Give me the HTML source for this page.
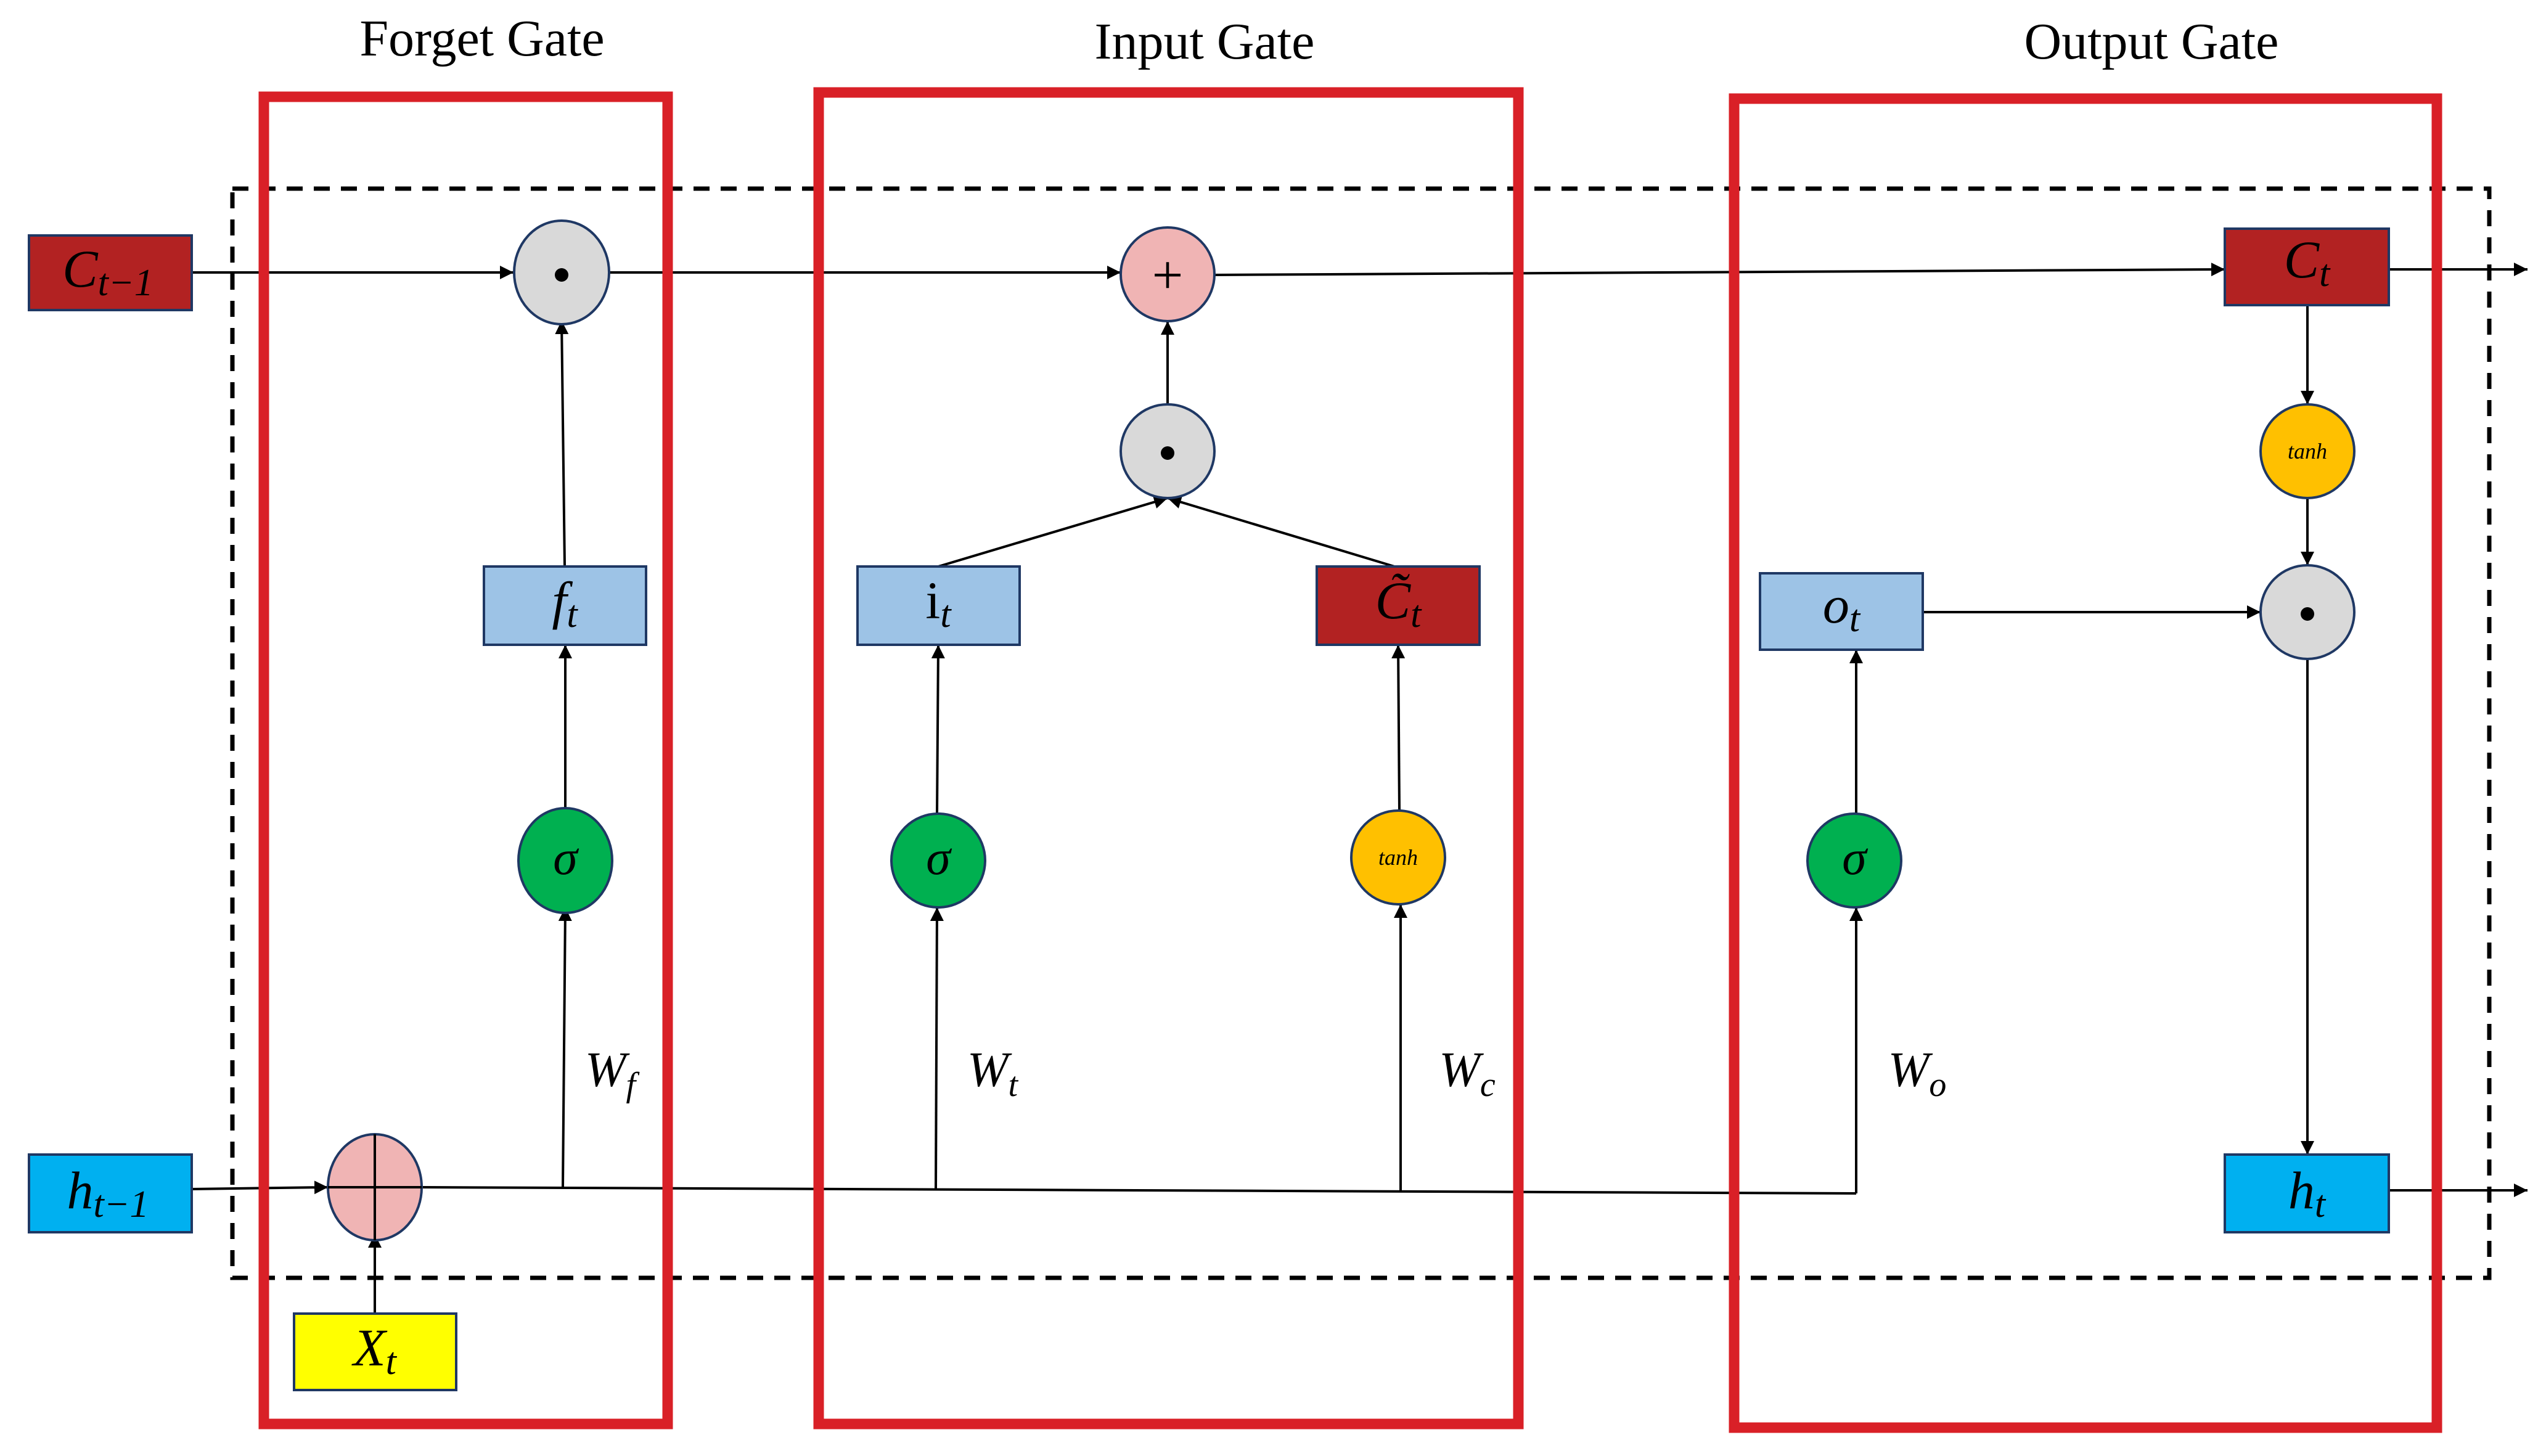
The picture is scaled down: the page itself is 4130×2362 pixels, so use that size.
<!DOCTYPE html>
<html><head><meta charset="utf-8"><style>html,body{margin:0;padding:0;background:#fff}svg{display:block}</style></head>
<body>
<svg width="4130" height="2362" viewBox="0 0 4130 2362" xmlns="http://www.w3.org/2000/svg" font-family="Liberation Serif, serif">
<defs>
<marker id="b" viewBox="0 0 10 10" refX="10" refY="5" markerWidth="22" markerHeight="22" orient="auto" markerUnits="userSpaceOnUse">
<path d="M0,0 L10,5 L0,10 z" fill="#000"/></marker>
</defs>
<rect width="4130" height="2362" fill="#fff"/>
<g font-size="84" text-anchor="middle" fill="#000">
<text x="782" y="90">Forget Gate</text>
<text x="1954" y="95">Input Gate</text>
<text x="3490" y="95">Output Gate</text>
</g>
<rect x="377" y="306" width="3661" height="1767" fill="none" stroke="#000" stroke-width="7" stroke-dasharray="26,18"/>
<g stroke="#000" stroke-width="4" fill="none">
<line x1="311" y1="442" x2="833" y2="442" marker-end="url(#b)"/>
<line x1="989" y1="442" x2="1818" y2="442" marker-end="url(#b)"/>
<line x1="1970" y1="446" x2="3609" y2="437" marker-end="url(#b)"/>
<line x1="3875" y1="437" x2="4100" y2="437" marker-end="url(#b)"/>
<line x1="916" y1="919" x2="911" y2="520" marker-end="url(#b)"/>
<line x1="917" y1="1320" x2="917" y2="1046" marker-end="url(#b)"/>
<line x1="913" y1="1926" x2="917" y2="1472" marker-end="url(#b)"/>
<line x1="311" y1="1929" x2="532" y2="1926" marker-end="url(#b)"/>
<line x1="608" y1="2131" x2="608" y2="2002" marker-end="url(#b)"/>
<line x1="684" y1="1926" x2="3011" y2="1936"/>
<line x1="3011" y1="1936" x2="3011" y2="1472" marker-end="url(#b)"/>
<line x1="3011" y1="1320" x2="3011" y2="1054" marker-end="url(#b)"/>
<line x1="1518" y1="1929" x2="1520" y2="1472" marker-end="url(#b)"/>
<line x1="1520" y1="1320" x2="1522" y2="1046" marker-end="url(#b)"/>
<line x1="2272" y1="1932" x2="2272" y2="1467" marker-end="url(#b)"/>
<line x1="2270" y1="1315" x2="2268" y2="1046" marker-end="url(#b)"/>
<line x1="1522" y1="919" x2="1894" y2="808" marker-end="url(#b)"/>
<line x1="2262" y1="919" x2="1894" y2="808" marker-end="url(#b)"/>
<line x1="1894" y1="656" x2="1894" y2="521" marker-end="url(#b)"/>
<line x1="3743" y1="495" x2="3743" y2="656" marker-end="url(#b)"/>
<line x1="3743" y1="808" x2="3743" y2="917" marker-end="url(#b)"/>
<line x1="3119" y1="993" x2="3667" y2="993" marker-end="url(#b)"/>
<line x1="3743" y1="1069" x2="3743" y2="1873" marker-end="url(#b)"/>
<line x1="3875" y1="1931" x2="4100" y2="1931" marker-end="url(#b)"/>
</g>
<g stroke="#1f3864" stroke-width="4">
<rect x="47" y="382" width="264" height="121" fill="#b22222"/>
<rect x="47" y="1873" width="264" height="126" fill="#00b0f0"/>
<rect x="477" y="2131" width="263" height="124" fill="#ffff00"/>
<rect x="785" y="919" width="263" height="127" fill="#9dc3e6"/>
<rect x="1391" y="919" width="263" height="127" fill="#9dc3e6"/>
<rect x="2136" y="919" width="264" height="127" fill="#b22222"/>
<rect x="2855" y="930" width="264" height="124" fill="#9dc3e6"/>
<rect x="3609" y="371" width="266" height="124" fill="#b22222"/>
<rect x="3609" y="1873" width="266" height="126" fill="#00b0f0"/>
</g>
<g stroke="#1f3864" stroke-width="4">
<ellipse cx="911" cy="442" rx="77" ry="84" fill="#d9d9d9"/>
<ellipse cx="1894" cy="445" rx="76" ry="76" fill="#f0b4b4"/>
<ellipse cx="1894" cy="732" rx="76" ry="76" fill="#d9d9d9"/>
<ellipse cx="3743" cy="993" rx="76" ry="76" fill="#d9d9d9"/>
<ellipse cx="3743" cy="732" rx="76" ry="76" fill="#ffc000"/>
<ellipse cx="2268" cy="1391" rx="76" ry="76" fill="#ffc000"/>
<ellipse cx="917" cy="1396" rx="76" ry="85" fill="#00b050"/>
<ellipse cx="1522" cy="1396" rx="76" ry="76" fill="#00b050"/>
<ellipse cx="3008" cy="1396" rx="76" ry="76" fill="#00b050"/>
<ellipse cx="608" cy="1926" rx="76" ry="86" fill="#f0b4b4"/>
</g>
<g stroke="#000" stroke-width="4"><line x1="532" y1="1926" x2="684" y2="1926"/><line x1="608" y1="1840" x2="608" y2="2012"/></g>
<g fill="#000"><circle cx="911" cy="446" r="11"/><circle cx="1894" cy="735" r="11"/><circle cx="3743" cy="996" r="11"/></g>
<g font-style="italic" fill="#000" text-anchor="middle">
<text x="1894" y="476" font-size="90" font-style="normal">+</text>
<text x="917" y="1418" font-size="80">σ</text>
<text x="1522" y="1418" font-size="80">σ</text>
<text x="3008" y="1418" font-size="80">σ</text>
<text x="2268" y="1403" font-size="36">tanh</text>
<text x="3743" y="744" font-size="36">tanh</text>
<text x="175" y="465" font-size="86">C<tspan font-size="62" dy="14">t−1</tspan></text>
<text x="175" y="1960" font-size="86">h<tspan font-size="62" dy="14">t−1</tspan></text>
<text x="608" y="2215" font-size="86">X<tspan font-size="62" dy="14">t</tspan></text>
<text x="916" y="1003" font-size="86">f<tspan font-size="62" dy="14">t</tspan></text>
<text x="1522" y="1003" font-size="86" font-style="normal">i<tspan font-size="62" dy="14" font-style="italic">t</tspan></text>
<text x="2268" y="1003" font-size="86">C̃<tspan font-size="62" dy="14">t</tspan></text>
<text x="2987" y="1010" font-size="86">o<tspan font-size="62" dy="14">t</tspan></text>
<text x="3742" y="450" font-size="86">C<tspan font-size="62" dy="14">t</tspan></text>
<text x="3742" y="1960" font-size="86">h<tspan font-size="62" dy="14">t</tspan></text>
<text x="990" y="1762" font-size="80">W<tspan font-size="56" dy="16">f</tspan></text>
<text x="1610" y="1762" font-size="80">W<tspan font-size="56" dy="16">t</tspan></text>
<text x="2380" y="1762" font-size="80">W<tspan font-size="56" dy="16">c</tspan></text>
<text x="3110" y="1762" font-size="80">W<tspan font-size="56" dy="16">o</tspan></text>
</g>
<g fill="none" stroke="#d92027" stroke-width="17">
<rect x="428" y="157" width="655" height="2153"/>
<rect x="1328" y="150" width="1135" height="2160"/>
<rect x="2813" y="160" width="1140" height="2156"/>
</g>
</svg>
</body></html>
